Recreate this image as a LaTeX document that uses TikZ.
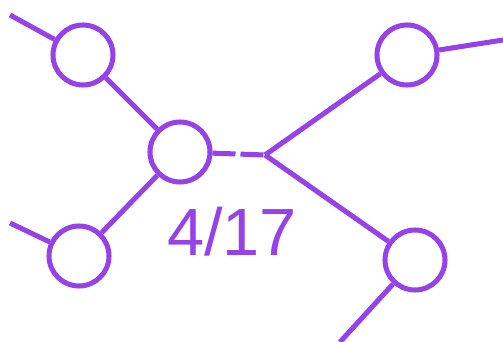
\documentclass[tikz,border=0pt]{standalone}
\usepackage{fontspec}
\setmainfont{Liberation Sans}
\usetikzlibrary{calc}

\begin{document}
\begin{tikzpicture}[x=0.03cm,y=-0.03cm,line cap=butt,line join=round]
  % ----- styles & colors -----
  \definecolor{netpurple}{RGB}{150,66,232}
  \tikzset{
    hub/.style={draw=netpurple,fill=white,circle,line width=4.3pt,
      minimum size=1.8cm,inner sep=0pt},
    link/.style={draw=netpurple,line width=4.3pt},
    gaplink/.style={link,dash pattern=on 0.69cm off 0.15cm}
  }

  % ----- frame -----
  \useasboundingbox (0,0) rectangle (503,342);

  % ----- the five circles -----
  \node[hub] (c1) at (83,55) {};
  \node[hub] (c2) at (180,152) {};
  \node[hub] (c3) at (407,55) {};
  \node[hub] (c4) at (415,260) {};
  \node[hub] (c5) at (79,256) {};

  % branch point and loose ends
  \coordinate (J) at (265,155);
  \coordinate (e1) at (10,15);
  \coordinate (e5) at (10,223);
  \coordinate (e3) at (503,40);
  \coordinate (e4) at (340,342);

  % ----- links -----
  \draw[link] (e1) -- (c1);
  \draw[link] (c1) -- (c2);
  \draw[link] (c5) -- (c2);
  \draw[link] (e5) -- (c5);
  \draw[link] (J) -- (c3);
  \draw[link] (J) -- (c4);
  \draw[link] (c3) -- (e3);
  \draw[link] (c4) -- (e4);

  % dashed link into the branch point
  \draw[gaplink] (c2) -- (J);

  % ----- counter -----
  \node[anchor=base,text=netpurple,inner sep=0pt,
    font=\fontsize{57}{60}\selectfont] (count) at (232,255) {4/17};

\end{tikzpicture}
\end{document}
